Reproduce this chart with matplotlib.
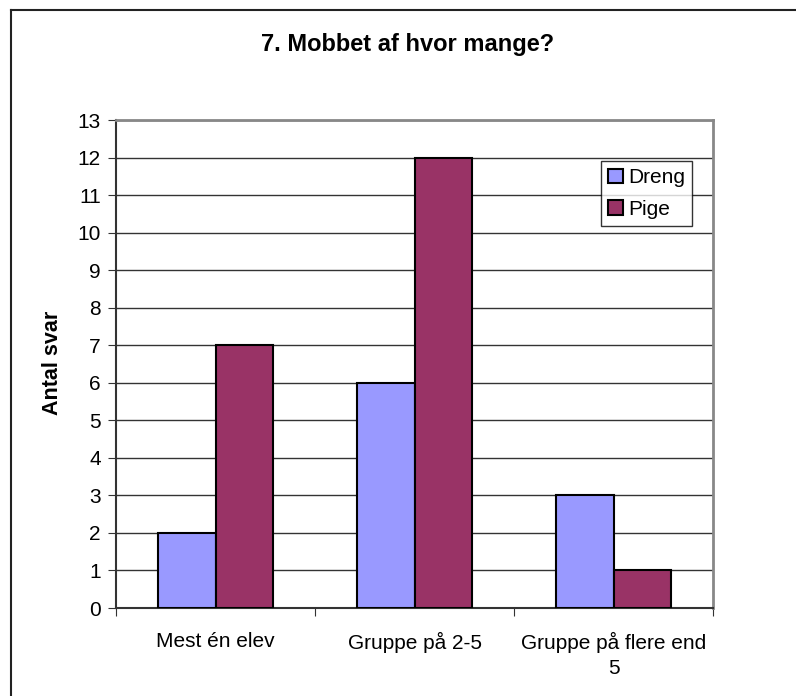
import numpy as np
import matplotlib
matplotlib.use("Agg")
import matplotlib.pyplot as plt
from matplotlib.lines import Line2D

plt.rcParams['font.family'] = ['Liberation Sans', 'DejaVu Sans']

categories = ["Mest én elev", "Gruppe på 2-5", "Gruppe på flere end\n5"]
dreng = [2, 6, 3]
pige = [7, 12, 1]
series_names = ["Dreng", "Pige"]

fig = plt.figure(figsize=(7.96, 6.96), dpi=100)
ax = fig.add_axes([116/796, 1 - 608/696, (713 - 116)/796, (608 - 120)/696])

# outer chart border (only top and left visible)
fig.add_artist(Line2D([11/796, 11/796], [0, 1 - 10/696], color="#222222", lw=1.5,
                      transform=fig.transFigure))
fig.add_artist(Line2D([11/796, 1], [1 - 10/696, 1 - 10/696], color="#222222", lw=1.5,
                      transform=fig.transFigure))

x = np.arange(len(categories))
w = 0.29
ax.bar(x - w/2, dreng, w, color="#9999FF", edgecolor="black", linewidth=1.5,
       label=series_names[0], zorder=3)
ax.bar(x + w/2, pige, w, color="#993366", edgecolor="black", linewidth=1.5,
       label=series_names[1], zorder=3)

ax.set_xlim(-0.5, len(categories) - 0.5)
ax.set_ylim(0, 13)
ax.set_yticks(range(0, 14))
ax.yaxis.grid(True, color="#333333", linewidth=1, zorder=0)

# category labels centred, tick marks on the boundaries
ax.set_xticks(np.arange(-0.5, len(categories)), minor=False)
ax.set_xticklabels([])
ax.set_xticks(x, minor=True)
ax.set_xticklabels(categories, minor=True, fontsize=15, linespacing=1.45)
ax.tick_params(axis="x", which="minor", length=0, pad=17)
ax.tick_params(axis="x", which="major", length=6, direction="out", color="#333333")
ax.tick_params(axis="y", length=6, direction="out", labelsize=15, pad=5, color="#333333")

for s in ["top", "right"]:
    ax.spines[s].set_color("#888888")
    ax.spines[s].set_linewidth(2)
for s in ["left", "bottom"]:
    ax.spines[s].set_color("#333333")
    ax.spines[s].set_linewidth(1.5)

fig.text(52/796, 1 - 363/696, "Antal svar", fontsize=15.5, fontweight="bold",
         rotation=90, ha="center", va="center")
fig.text(408/796, 1 - 44/696, "7. Mobbet af hvor mange?", fontsize=17,
         fontweight="bold", ha="center", va="center")

leg = ax.legend(loc="upper left", bbox_to_anchor=((601 - 116)/597, 1 - (161 - 120)/488),
                fontsize=15, frameon=True, fancybox=False, edgecolor="black",
                handlelength=0.7, handleheight=0.7, handletextpad=0.25,
                borderpad=0.35, labelspacing=0.6, borderaxespad=0)
leg.get_frame().set_linewidth(1)

fig.savefig("out.png", dpi=100)
